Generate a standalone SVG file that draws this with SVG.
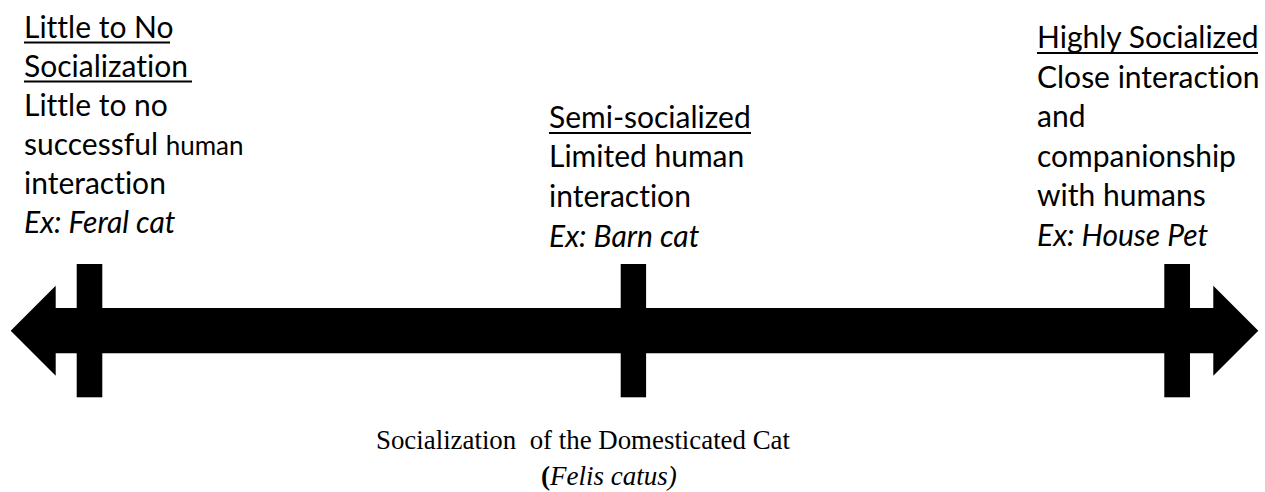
<svg xmlns="http://www.w3.org/2000/svg" width="1265" height="492" viewBox="0 0 1265 492">
  <style>
    .lbl { font-family: Lato, "Open Sans", "Liberation Sans", sans-serif; font-size: 30px; fill: #000; font-variant-ligatures: none; }
    .small { font-size: 26px; }
    .it { font-style: italic; }
    .ul { stroke: #000; stroke-width: 2.2; }
    .tick { fill: #000; }
    .axis { fill: #000; }
    .cap { font-family: "Liberation Serif", "Times New Roman", serif; font-size: 27px; fill: #000; }
  </style>
  <rect width="1265" height="492" fill="#fff"/>

  <g id="connectors">
    <polygon class="axis" points="10.7,330.7 55.7,285.7 55.7,308 1213.3,308 1213.3,285.7 1258.3,330.7 1213.3,375.7 1213.3,353.3 55.7,353.3 55.7,375.7"/>
  </g>

  <g id="node-little">
    <rect class="tick" x="76.7" y="264" width="25.6" height="133.3"/>
    <text class="lbl" x="24" y="37.5">Little to No</text>
    <line class="ul" x1="24" y1="42.5" x2="170" y2="42.5"/>
    <text class="lbl" x="24" y="76.5">Socialization</text>
    <line class="ul" x1="24" y1="81.5" x2="192" y2="81.5"/>
    <text class="lbl" x="24" y="115.5">Little to no</text>
    <text class="lbl" x="24" y="154.5">successful <tspan class="small">human</tspan></text>
    <text class="lbl" x="24" y="193.5">interaction</text>
    <text class="lbl it" x="24" y="232.5">Ex: Feral cat</text>
  </g>

  <g id="node-semi">
    <rect class="tick" x="620.7" y="264" width="25.4" height="133.3"/>
    <text class="lbl" x="549" y="127.5">Semi-socialized</text>
    <line class="ul" x1="549" y1="133" x2="751" y2="133"/>
    <text class="lbl" x="549" y="167">Limited human</text>
    <text class="lbl" x="549" y="207">interaction</text>
    <text class="lbl it" x="549" y="246.5">Ex: Barn cat</text>
  </g>

  <g id="node-high">
    <rect class="tick" x="1164.3" y="264" width="25.7" height="133.3"/>
    <text class="lbl" x="1037" y="48">Highly Socialized</text>
    <line class="ul" x1="1037" y1="53" x2="1258" y2="53"/>
    <text class="lbl" x="1037" y="87.6">Close interaction</text>
    <text class="lbl" x="1037" y="127.2">and</text>
    <text class="lbl" x="1037" y="166.8">companionship</text>
    <text class="lbl" x="1037" y="206.4">with humans</text>
    <text class="lbl it" x="1037" y="246">Ex: House Pet</text>
  </g>

  <g id="caption">
    <text class="cap" x="376" y="449" xml:space="preserve" textLength="414" lengthAdjust="spacingAndGlyphs">Socialization  of the Domesticated Cat</text>
    <text class="cap" x="541" y="485"><tspan font-weight="bold">(</tspan><tspan class="it">Felis catus)</tspan></text>
  </g>
</svg>
